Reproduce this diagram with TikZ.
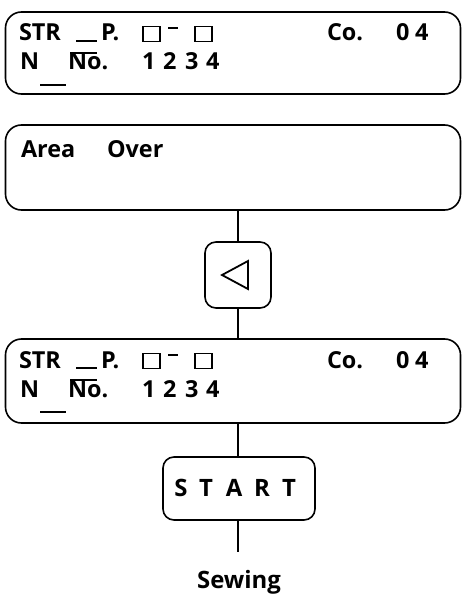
\documentclass[tikz,border=0pt]{standalone}
\usepackage{fontspec}
\setmainfont{Open Sans}
\newcommand\lcdlines[1]{%
  \node[lcd] (#1str) at (19,41) {STR};
  \draw[rule] (76,41) -- (97,41);
  \node[lcd] (#1p) at (101,41) {P.};
  \node[cell] (#1c1) at (151.5,34) {};
  \draw[rule, line width=2bp] (168,28) -- (178,28);
  \node[cell] (#1c2) at (203.5,34) {};
  \node[lcd] (#1co) at (327,41) {Co.};
  \node[lcd] (#1zero) at (396,41) {0};
  \node[lcd] (#1four) at (415,41) {4};
  \node[lcd] (#1n) at (20,70) {N};
  \draw[rule] (40,85) -- (66,85);
  \node[lcd] (#1no) at (68,70) {No.};
  \draw[rule] (70,53) -- (97,53);
  \node[lcd] (#1d1) at (142,70) {1};
  \node[lcd] (#1d2) at (163,70) {2};
  \node[lcd] (#1d3) at (185,70) {3};
  \node[lcd] (#1d4) at (206,70) {4};
}
\begin{document}
\begin{tikzpicture}[x=1bp,y=-1bp,
  line width=1.6bp,
  panel/.style={draw, rounded corners=16bp, inner sep=0pt, outer sep=0pt, minimum width=455bp},
  keybox/.style={draw, rounded corners=11bp, inner sep=0pt, outer sep=0pt},
  lcd/.style={inner sep=0pt, outer sep=0pt, anchor=base west, font=\fontsize{23.5}{25}\selectfont\bfseries},
  keyletter/.style={inner sep=0pt, outer sep=0pt, anchor=base, font=\fontsize{24}{26}\selectfont\bfseries},
  cell/.style={draw, line width=1.1bp, minimum width=17bp, minimum height=15bp, inner sep=0pt, outer sep=0pt},
  rule/.style={line width=1.5bp},
  link/.style={line width=1.6bp}]
\useasboundingbox (0,0) rectangle (463,596);

% panel 1
\node[panel, minimum height=82bp] (d1) at (233,53) {};
\lcdlines{a}

% panel 2
\node[panel, minimum height=85bp] (d2) at (233,167.5) {};
\node[lcd] (area) at (21,158) {Area};
\node[lcd] (over) at (107,158) {Over};

% left key
\node[keybox, minimum width=66bp, minimum height=66bp] (k) at (238,275) {};
\draw[line width=1.8bp] ([xshift=-16bp]k.center) -- ([xshift=10bp,yshift=14bp]k.center)
  -- ([xshift=10bp,yshift=-14bp]k.center) -- cycle;

% panel 3
\node[panel, minimum height=84bp] (d3) at (233,381) {};
\begin{scope}[shift={(0,327)}]
\lcdlines{b}
\end{scope}

% start key
\node[keybox, minimum width=152bp, minimum height=63bp] (st) at (239,488.5) {};
\node[keyletter] (s1) at (181,496) {S};
\node[keyletter] (s2) at (206,496) {T};
\node[keyletter] (s3) at (234,496) {A};
\node[keyletter] (s4) at (262,496) {R};
\node[keyletter] (s5) at (289,496) {T};

\coordinate (end) at (238,552);
\node[keyletter] (sew) at (239,588) {Sewing};

% connectors
\draw[link] (238,210) -- (k.north);
\draw[link] (k.south) -- (238,339);
\draw[link] (238,423) -- (238,457);
\draw[link] (238,520) -- (end);
\end{tikzpicture}
\end{document}
